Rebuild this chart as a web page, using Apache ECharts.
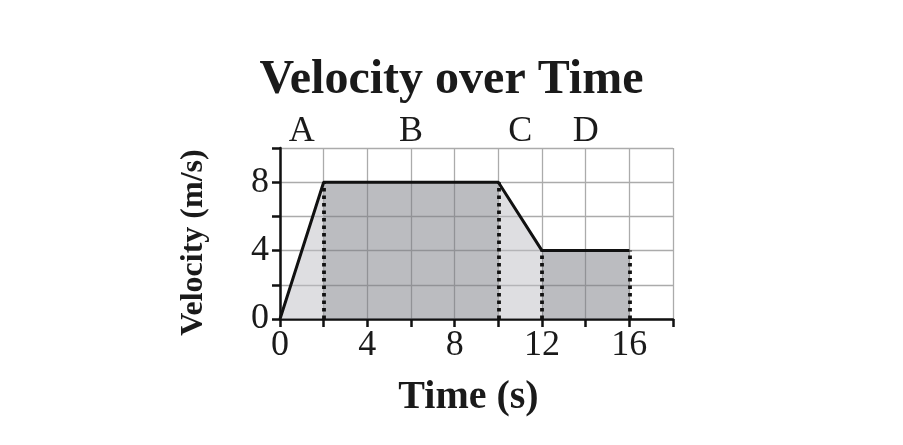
<!DOCTYPE html>
<html>
<head>
<meta charset="utf-8">
<script src="https://cdn.jsdelivr.net/npm/echarts@6/dist/echarts.min.js"></script>
<style>
html,body{margin:0;padding:0;background:#fff;}
#chart{width:903px;height:445px;}
</style>
</head>
<body>
<div id="chart"></div>
<script>
// ---- data ----
const time = [0, 2, 10, 12, 16];          // s
const velocity = [0, 8, 8, 4, 4];         // m/s
const segmentNames = ['A', 'B', 'C', 'D'];
const segmentLabelAt = [1, 6, 11, 14];    // time at which each segment letter sits
const segmentShade = ['light', 'dark', 'light', 'dark'];
const xTickLabels = [0, 4, 8, 12, 16];
const yTickLabels = [0, 4, 8];

const serif = '"Liberation Serif", "DejaVu Serif", serif';
const shadeColor = { light: 'rgba(190,190,196,0.5)', dark: 'rgba(120,122,130,0.5)' };

const series = [];
// shaded segments
segmentNames.forEach((name, i) => {
  series.push({
    name: 'seg' + name,
    type: 'line',
    data: [[time[i], velocity[i]], [time[i + 1], velocity[i + 1]]],
    symbol: 'none',
    lineStyle: { width: 0 },
    areaStyle: { color: shadeColor[segmentShade[i]], opacity: 1, origin: 'start' },
    silent: true,
    z: 1
  });
});
// velocity line with dotted drop lines
series.push({
  name: 'velocity',
  type: 'line',
  data: time.map((t, i) => [t, velocity[i]]),
  symbol: 'none',
  lineStyle: { color: '#111', width: 3 },
  z: 5,
  markLine: {
    silent: true,
    symbol: 'none',
    label: { show: false },
    lineStyle: { color: '#111', width: 3.8, type: [3.5, 4] },
    data: time.slice(1).map((t, i) => [{ coord: [t, 0] }, { coord: [t, velocity[i + 1]] }])
  }
});

const chart = echarts.init(document.getElementById('chart'));
chart.setOption({
  backgroundColor: '#fff',
  animation: false,
  title: {
    text: 'Velocity over Time',
    left: 'center',
    top: 52,
    textStyle: { fontFamily: serif, fontWeight: 'bold', fontSize: 48, color: '#1a1a1a' }
  },
  grid: { left: 280, right: 230, top: 148, bottom: 126 },
  xAxis: [{
    type: 'value',
    min: 0, max: 18, interval: 2,
    name: 'Time (s)',
    nameLocation: 'middle',
    nameGap: 59,
    nameTextStyle: { fontFamily: serif, fontWeight: 'bold', fontSize: 40, color: '#1a1a1a', padding: [0, 16, 0, 0] },
    axisLine: { show: true, onZero: false, lineStyle: { color: '#111', width: 2.5 } },
    axisTick: { show: true, length: 8, lineStyle: { color: '#111', width: 2.5 } },
    axisLabel: {
      fontFamily: serif, fontSize: 36, color: '#1a1a1a', margin: 9,
      formatter: v => xTickLabels.includes(v) ? String(v) : ''
    },
    splitLine: { show: true, lineStyle: { color: '#ababab', width: 1.3 } }
  }, {
    type: 'value',
    position: 'top',
    min: 0, max: 18, interval: 1,
    axisLine: { show: false },
    axisTick: { show: false },
    splitLine: { show: false },
    axisLabel: {
      fontFamily: serif, fontSize: 36, color: '#1a1a1a', margin: -2,
      formatter: v => { const k = segmentLabelAt.indexOf(v); return k >= 0 ? segmentNames[k] : ''; }
    }
  }],
  yAxis: {
    type: 'value',
    min: 0, max: 10, interval: 2,
    name: 'Velocity (m/s)',
    nameLocation: 'middle',
    nameGap: 70,
    nameTextStyle: { fontFamily: serif, fontWeight: 'bold', fontSize: 32, color: '#1a1a1a', padding: [0, 18, 0, 0] },
    axisLine: { show: true, lineStyle: { color: '#111', width: 2.5 } },
    axisTick: { show: true, length: 8, lineStyle: { color: '#111', width: 2.5 } },
    axisLabel: {
      fontFamily: serif, fontSize: 36, color: '#1a1a1a', margin: 11,
      formatter: v => yTickLabels.includes(v) ? String(v) : ''
    },
    splitLine: { show: true, lineStyle: { color: '#ababab', width: 1.3 } }
  },
  series: series
});
</script>
</body>
</html>
